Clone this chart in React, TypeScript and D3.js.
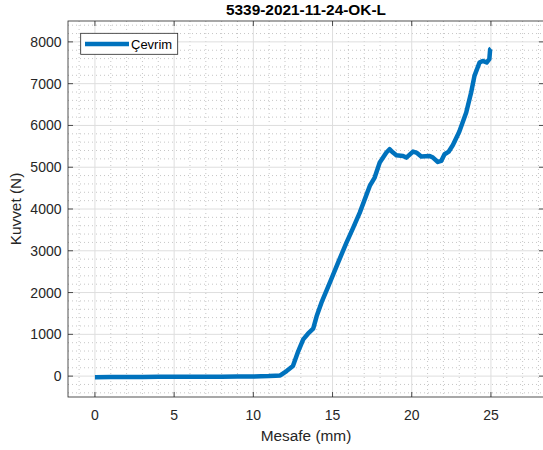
import * as d3 from 'd3';

const W = 543;
const H = 450;
const M = { left: 68, right: 544, top: 21, bottom: 397 };

const TITLE = '5339-2021-11-24-OK-L';
const SERIES_NAME = 'Çevrim';
const X_LABEL = 'Mesafe (mm)';
const Y_LABEL = 'Kuvvet (N)';

const xTicks = [0, 5, 10, 15, 20, 25];
const yTicks = [0, 1000, 2000, 3000, 4000, 5000, 6000, 7000, 8000];

// mesafe (mm)
const distance = [
  0, 1, 2, 3, 4, 5, 6, 7, 8, 9, 10, 10.5, 11, 11.4, 11.7, 12.1, 12.5, 12.8,
  13.15, 13.45, 13.78, 14.0, 14.3, 14.83, 15.35, 15.88, 16.3, 16.72, 17.35,
  17.66, 17.98, 18.4, 18.6, 18.82, 19.03, 19.45, 19.66, 20.08, 20.29, 20.6,
  21.13, 21.34, 21.65, 21.86, 22.07, 22.34, 22.6, 23.0, 23.44, 23.75, 23.96,
  24.28, 24.48, 24.73, 24.9, 24.95, 25.0,
];
// kuvvet (N)
const force = [
  -25, -22, -20, -20, -18, -18, -15, -15, -15, -12, -8, -5, 0, 10, 17, 120,
  240, 560, 880, 1015, 1135, 1437, 1758, 2237, 2716, 3195, 3550, 3914, 4551,
  4752, 5111, 5351, 5430, 5351, 5287, 5270, 5230, 5375, 5351, 5255, 5270,
  5230, 5126, 5150, 5310, 5375, 5530, 5850, 6309, 6788, 7186, 7507, 7545,
  7507, 7586, 7825, 7840,
];

const FONT = '"Liberation Sans", Arial, Helvetica, sans-serif';
const AX = '#262626';
const BLUE = '#0072BD';

export default function App() {
  const x = d3.scaleLinear().domain([-1.7, 28.35]).range([M.left, M.right]);
  const y = d3.scaleLinear().domain([-500, 8500]).range([M.bottom, M.top]);

  const xMinor = d3.range(-1, 29, 1).filter((v) => v % 5 !== 0);
  const yMinor = d3.range(-400, 8500, 200).filter((v) => v % 1000 !== 0);

  const pts = distance.map((d, i) => [d, force[i]] as [number, number]);
  const path = d3
    .line<[number, number]>()
    .x((d) => x(d[0]))
    .y((d) => y(d[1]))
    .curve(d3.curveLinear)(pts);

  const tl = 5;

  return (
    <div style={{ position: 'fixed', left: 0, top: 0 }}>
      <svg width={W} height={H} style={{ display: 'block', fontFamily: FONT }}>
        <rect x={0} y={0} width={W} height={H} fill="#fff" />
        <defs>
          <clipPath id="plot">
            <rect x={M.left} y={M.top} width={M.right - M.left} height={M.bottom - M.top} />
          </clipPath>
        </defs>
        {/* minor grid */}
        {xMinor.map((v) => (
          <line key={`xm${v}`} x1={x(v)} x2={x(v)} y1={M.top} y2={M.bottom}
            stroke="#b8b8b8" strokeWidth={0.8} strokeDasharray="1 3" />
        ))}
        {yMinor.map((v) => (
          <line key={`ym${v}`} x1={M.left} x2={M.right} y1={y(v)} y2={y(v)}
            stroke="#b8b8b8" strokeWidth={0.8} strokeDasharray="1 3" />
        ))}
        {/* major grid */}
        {xTicks.map((v) => (
          <line key={`xg${v}`} x1={x(v)} x2={x(v)} y1={M.top} y2={M.bottom}
            stroke="#dedede" strokeWidth={1} />
        ))}
        {yTicks.map((v) => (
          <line key={`yg${v}`} x1={M.left} x2={M.right} y1={y(v)} y2={y(v)}
            stroke="#dedede" strokeWidth={1} />
        ))}
        {/* data */}
        <g clipPath="url(#plot)">
          <path d={path ?? ''} fill="none" stroke={BLUE} strokeWidth={4.5}
            strokeLinejoin="round" strokeLinecap="butt" />
        </g>
        {/* axes box */}
        <rect x={M.left} y={M.top} width={M.right - M.left} height={M.bottom - M.top}
          fill="none" stroke={AX} strokeWidth={0.8} />
        {xTicks.map((v) => (
          <g key={`xt${v}`}>
            <line x1={x(v)} x2={x(v)} y1={M.bottom} y2={M.bottom - tl} stroke={AX} strokeWidth={0.8} />
            <line x1={x(v)} x2={x(v)} y1={M.top} y2={M.top + tl} stroke={AX} strokeWidth={0.8} />
            <text x={x(v)} y={420} textAnchor="middle" fontSize={14} fill={AX}>{v}</text>
          </g>
        ))}
        {yTicks.map((v) => (
          <g key={`yt${v}`}>
            <line x1={M.left} x2={M.left + tl} y1={y(v)} y2={y(v)} stroke={AX} strokeWidth={0.8} />
            <line x1={M.right} x2={M.right - tl} y1={y(v)} y2={y(v)} stroke={AX} strokeWidth={0.8} />
            <text x={61.5} y={y(v) + 5} textAnchor="end" fontSize={14} fill={AX}>{v}</text>
          </g>
        ))}
        {/* labels */}
        <text x={(M.left + M.right) / 2} y={14.5} textAnchor="middle" fontSize={15.4}
          fontWeight="bold" fill="#000">{TITLE}</text>
        <text x={(M.left + M.right) / 2} y={441} textAnchor="middle" fontSize={15.4} fill={AX}>{X_LABEL}</text>
        <text transform={`translate(21,${(M.top + M.bottom) / 2}) rotate(-90)`} textAnchor="middle"
          fontSize={15.4} fill={AX}>{Y_LABEL}</text>
        {/* legend */}
        <rect x={80.7} y={33.3} width={97} height={21} fill="#fff" stroke={AX} strokeWidth={0.8} />
        <line x1={85} x2={129} y1={44} y2={44} stroke={BLUE} strokeWidth={4.5} />
        <text x={131} y={48.8} fontSize={13} fill="#000">{SERIES_NAME}</text>
      </svg>
    </div>
  );
}
